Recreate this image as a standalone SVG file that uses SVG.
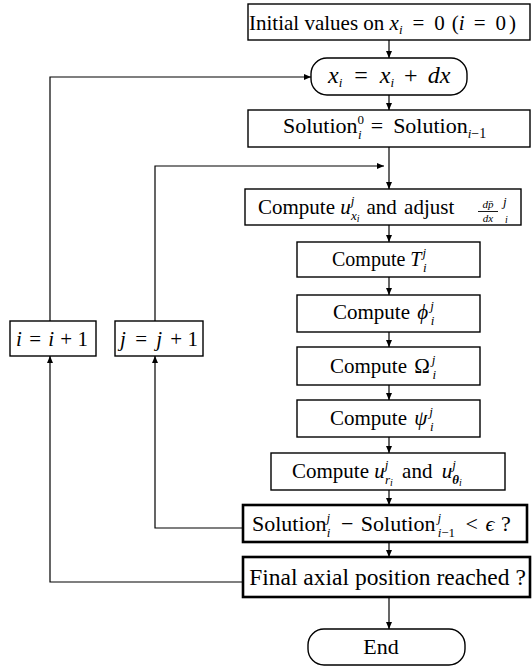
<svg xmlns="http://www.w3.org/2000/svg" width="532" height="667" viewBox="0 0 532 667">
<defs>
<style>
text{font-family:"Liberation Serif","Times New Roman",serif;fill:#000}
.m{text-anchor:middle}
.box{fill:#fff;stroke:#000;stroke-width:1.4}
.bold{stroke-width:2.6}
.c{fill:none;stroke:#000;stroke-width:1.2;marker-end:url(#ah)}
.i{font-style:italic}
.s{font-size:13px}
.ss{font-size:10px}
.f{font-size:11px;font-style:italic;text-anchor:middle}
</style>
<marker id="ah" markerWidth="8" markerHeight="6" refX="7" refY="3" orient="auto" markerUnits="userSpaceOnUse"><path d="M0,0 L7,3 L0,6 z" fill="#000"/></marker>
</defs>
<rect width="532" height="667" fill="#fff"/>
<g id="connectors">
<path class="c" d="M389,40 V58"/>
<path class="c" d="M389,95 V110"/>
<path class="c" d="M389,147 V189"/>
<path class="c" d="M389,225 V242"/>
<path class="c" d="M389,277 V295"/>
<path class="c" d="M389,332 V347"/>
<path class="c" d="M389,385 V400"/>
<path class="c" d="M389,437 V453"/>
<path class="c" d="M389,490 V505"/>
<path class="c" d="M389,542 V557"/>
<path class="c" d="M389,597 V629"/>
<path class="c" d="M243,582 H50 V356"/>
<path class="c" d="M50,321 V77 H311"/>
<path class="c" d="M243,528 H155 V356"/>
<path class="c" d="M155,321 V166 H384"/>
</g>
<g id="init">
<rect class="box" x="248" y="4" width="282" height="36"/>
<text x="249" y="30" font-size="21">Initial values on <tspan class="i">x</tspan><tspan class="s i" dy="4">i</tspan><tspan dy="-4" dx="10">=</tspan><tspan dx="10">0</tspan><tspan dx="7">(</tspan><tspan class="i">i</tspan><tspan dx="9">=</tspan><tspan dx="10">0</tspan><tspan dx="3">)</tspan></text>
</g>
<g id="step">
<rect class="box" x="311" y="58" width="156" height="37" rx="16"/>
<text x="328" y="83" font-size="24"><tspan class="i">x</tspan><tspan class="s i" dy="4">i</tspan><tspan dy="-4" dx="12">=</tspan><tspan class="i" dx="12">x</tspan><tspan class="s i" dy="4">i</tspan><tspan dy="-4" dx="10">+</tspan><tspan class="i" dx="10">dx</tspan></text>
</g>
<g id="sol0">
<rect class="box" x="248" y="110" width="282" height="37"/>
<text x="283" y="133" font-size="22">Solution<tspan class="s" dy="-9">0</tspan><tspan class="s i" dx="-6" dy="15">i</tspan><tspan dy="-6" dx="9">=</tspan><tspan dx="10">Solution</tspan><tspan class="s i" font-size="14" dy="5">i</tspan><tspan font-size="14">−1</tspan></text>
</g>
<g id="ux">
<rect class="box" x="245" y="189" width="276" height="36"/>
<text x="258" y="214" font-size="21">Compute <tspan class="i">u</tspan><tspan class="s i" dy="-9">j</tspan><tspan class="s i" dx="-3.4" dy="15">x</tspan><tspan class="ss i" dy="2">i</tspan><tspan dy="-8" dx="7">and</tspan><tspan dx="2"> adjust</tspan></text>
<text class="f" x="488" y="208">dp̄</text>
<line x1="478" y1="211.5" x2="498" y2="211.5" stroke="#000" stroke-width="0.9"/>
<text class="f" x="488" y="222">dx</text>
<text class="s i" x="503" y="206">j</text>
<text class="ss i" x="505" y="223">i</text>
</g>
<g id="T">
<rect class="box" x="297" y="242" width="183" height="35"/>
<text x="332" y="266" font-size="20">Compute <tspan class="i">T</tspan><tspan class="s i" dx="1" dy="-9">j</tspan><tspan class="s i" dx="-3" dy="15">i</tspan></text>
</g>
<g id="phi">
<rect class="box" x="297" y="295" width="183" height="37"/>
<text x="333" y="319" font-size="21">Compute <tspan class="i" dx="2">ϕ</tspan><tspan class="s i" dx="2" dy="-9">j</tspan><tspan class="s i" dx="-3" dy="15">i</tspan></text>
</g>
<g id="omega">
<rect class="box" x="297" y="347" width="183" height="38"/>
<text x="330" y="373" font-size="21">Compute <tspan dx="2">Ω</tspan><tspan class="s i" dx="2" dy="-9">j</tspan><tspan class="s i" dx="-3" dy="15">i</tspan></text>
</g>
<g id="psi">
<rect class="box" x="297" y="400" width="183" height="37"/>
<text x="330" y="425" font-size="21">Compute <tspan class="i" dx="2">ψ</tspan><tspan class="s i" dx="2" dy="-9">j</tspan><tspan class="s i" dx="-3" dy="15">i</tspan></text>
</g>
<g id="urut">
<rect class="box" x="271" y="453" width="234" height="37"/>
<text x="292" y="478" font-size="21">Compute <tspan class="i">u</tspan><tspan class="s i" dy="-9">j</tspan><tspan class="s i" dx="-3.4" dy="15">r</tspan><tspan class="ss i" dy="2">i</tspan><tspan dy="-8" dx="4"> and </tspan><tspan class="i" dx="4">u</tspan><tspan class="s i" dy="-9">j</tspan><tspan class="s i" font-weight="bold" dx="-3.4" dy="15">θ</tspan><tspan class="ss i" dy="2">i</tspan></text>
</g>
<g id="conv">
<rect class="box bold" x="243" y="505" width="284" height="37"/>
<text x="252" y="531" font-size="22">Solution<tspan class="s i" dy="-9">j</tspan><tspan class="s i" dx="-3.4" dy="15">i</tspan><tspan dy="-6" dx="5"> −</tspan><tspan dx="2"> Solution</tspan><tspan class="s i" dx="2" dy="-9">j</tspan><tspan class="s i" dx="-3.4" dy="15">i</tspan><tspan class="s">−1</tspan><tspan dy="-6" dx="5"> &lt;</tspan><tspan class="i" dx="2"> ϵ</tspan><tspan dx="1"> ?</tspan></text>
</g>
<g id="final">
<rect class="box bold" x="243" y="557" width="287" height="40"/>
<text class="m" x="387.5" y="585" font-size="23.5">Final axial position reached ?</text>
</g>
<g id="end">
<rect class="box" x="308" y="629" width="157" height="36" rx="16"/>
<text class="m" x="381" y="654" font-size="22">End</text>
</g>
<g id="inc_i">
<rect class="box" x="10" y="321" width="86" height="35"/>
<text class="m" x="52" y="346" font-size="21"><tspan class="i">i</tspan><tspan dx="2"> = </tspan><tspan class="i" dx="2">i</tspan><tspan dx="1"> + 1</tspan></text>
</g>
<g id="inc_j">
<rect class="box" x="115" y="321" width="88" height="35"/>
<text class="m" x="159" y="346" font-size="21"><tspan class="i">j</tspan><tspan dx="4"> = </tspan><tspan class="i" dx="4">j</tspan><tspan dx="3"> + 1</tspan></text>
</g>
</svg>
